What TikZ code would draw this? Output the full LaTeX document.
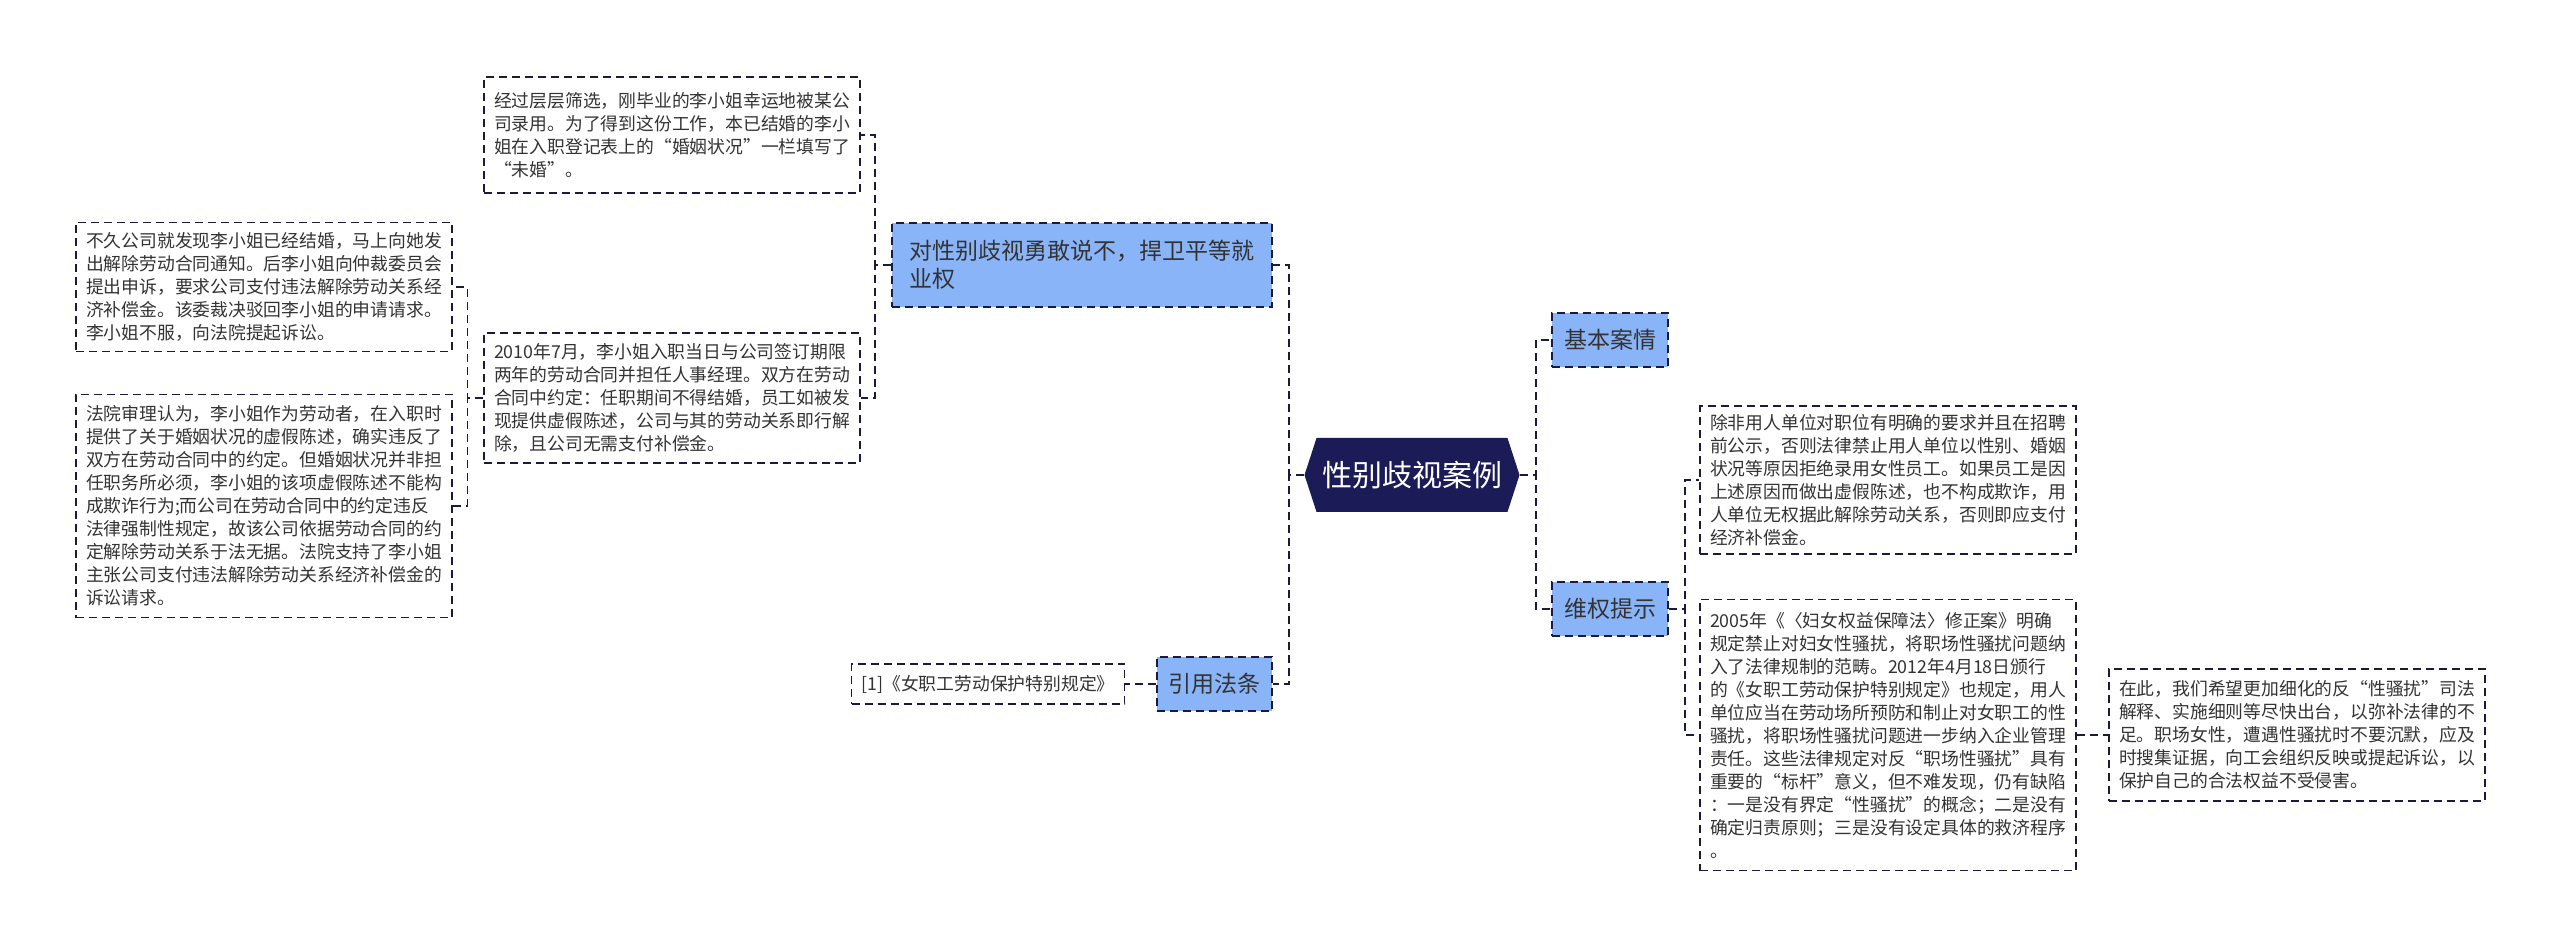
\documentclass[tikz,border=0pt]{standalone}
\usepackage{fontspec}
\setmainfont{Noto Sans CJK SC}
\usepackage{xcolor}
\definecolor{rootnavy}{RGB}{27,27,88}
\definecolor{linenavy}{RGB}{26,26,64}
\definecolor{topicblue}{RGB}{138,180,248}
\usepackage{tikz}
\usetikzlibrary{shapes.symbols, positioning}

\begin{document}
\begin{tikzpicture}[x=0.5pt, y=-0.5pt,
  root/.style={shape=signal, signal to=west and east, signal pointer angle=144, fill=rootnavy, text=white, font=\fontsize{15pt}{18pt}\selectfont, minimum width=107.5pt, minimum height=37pt, inner xsep=2pt},
  topic/.style={draw=linenavy, line width=1pt, dash pattern=on 4pt off 2.5pt, fill=topicblue, text=black!80, font=\fontsize{11.5pt}{14pt}\selectfont, minimum height=27pt},
  leaf/.style={draw=linenavy, line width=0.8pt, dash pattern=on 4pt off 2.5pt, fill=white, text=black!80, align=left, font=\fontsize{8.9pt}{11.5pt}\selectfont, inner sep=4pt, minimum width=188pt},
  mainlink/.style={linenavy, line width=1.4pt, dash pattern=on 4pt off 2.5pt},
  link/.style={linenavy, line width=0.7pt, dash pattern=on 4pt off 2.5pt}]
  \useasboundingbox (0,0) rectangle (2560,946);

  % Root
  \node[root] (root) at (1412,475) {性别歧视案例};

  % Right topics
  \node[topic, minimum width=58pt] (jb) at (1610,340) {基本案情};
  \node[topic, minimum width=58pt] (wq) at (1610,609) {维权提示};

  % Left topics
  \node[topic, minimum width=190pt, minimum height=42pt, align=left] (fb) at (1082,265) {对性别歧视勇敢说不，捍卫平等就\\业权};
  \node[topic, minimum width=57.5pt] (yy) at (1214,684) {引用法条};

  % Leaves of the left side
  \node[leaf, minimum width=136.5pt, minimum height=20pt] (ref) at (988,684) {[1]《女职工劳动保护特别规定》};
  \node[leaf, minimum height=58pt] (t1) at (672,135) {经过层层筛选，刚毕业的李小姐幸运地被某公\\司录用。为了得到这份工作，本已结婚的李小\\姐在入职登记表上的“婚姻状况”一栏填写了\\“未婚”。};
  \node[leaf, minimum height=65pt] (t2) at (672,398) {2010年7月，李小姐入职当日与公司签订期限\\两年的劳动合同并担任人事经理。双方在劳动\\合同中约定：任职期间不得结婚，员工如被发\\现提供虚假陈述，公司与其的劳动关系即行解\\除，且公司无需支付补偿金。};
  \node[leaf, minimum height=64.5pt] (t3) at (264,287) {不久公司就发现李小姐已经结婚，马上向她发\\出解除劳动合同通知。后李小姐向仲裁委员会\\提出申诉，要求公司支付违法解除劳动关系经\\济补偿金。该委裁决驳回李小姐的申请请求。\\李小姐不服，向法院提起诉讼。};
  \node[leaf, minimum height=111.5pt] (t4) at (264,506) {法院审理认为，李小姐作为劳动者，在入职时\\提供了关于婚姻状况的虚假陈述，确实违反了\\双方在劳动合同中的约定。但婚姻状况并非担\\任职务所必须，李小姐的该项虚假陈述不能构\\成欺诈行为;而公司在劳动合同中的约定违反\\法律强制性规定，故该公司依据劳动合同的约\\定解除劳动关系于法无据。法院支持了李小姐\\主张公司支付违法解除劳动关系经济补偿金的\\诉讼请求。};

  % Leaves of the right side
  \node[leaf, minimum height=73.5pt] (r1) at (1888,480) {除非用人单位对职位有明确的要求并且在招聘\\前公示，否则法律禁止用人单位以性别、婚姻\\状况等原因拒绝录用女性员工。如果员工是因\\上述原因而做出虚假陈述，也不构成欺诈，用\\人单位无权据此解除劳动关系，否则即应支付\\经济补偿金。};
  \node[leaf, minimum height=135.5pt] (r2) at (1888,735) {2005年《〈妇女权益保障法〉修正案》明确\\规定禁止对妇女性骚扰，将职场性骚扰问题纳\\入了法律规制的范畴。2012年4月18日颁行\\的《女职工劳动保护特别规定》也规定，用人\\单位应当在劳动场所预防和制止对女职工的性\\骚扰，将职场性骚扰问题进一步纳入企业管理\\责任。这些法律规定对反“职场性骚扰”具有\\重要的“标杆”意义，但不难发现，仍有缺陷\\：一是没有界定“性骚扰”的概念；二是没有\\确定归责原则；三是没有设定具体的救济程序\\。};
  \node[leaf, minimum height=66pt] (r3) at (2297,735) {在此，我们希望更加细化的反“性骚扰”司法\\解释、实施细则等尽快出台，以弥补法律的不\\足。职场女性，遭遇性骚扰时不要沉默，应及\\时搜集证据，向工会组织反映或提起诉讼，以\\保护自己的合法权益不受侵害。};

  % Connectors from the root
  \draw[mainlink] (root.east) -- ++(16,0) |- (jb.west);
  \draw[mainlink] (root.east) -- ++(16,0) |- (wq.west);
  \draw[mainlink] (root.west) -- ++(-15,0) |- (fb.east);
  \draw[mainlink] (root.west) -- ++(-15,0) |- (yy.east);

  % Connectors to the leaves
  \draw[link] (fb.west) -- ++(-16,0) |- (t1.east);
  \draw[link] (fb.west) -- ++(-16,0) |- (t2.east);
  \draw[link] (t2.west) -- ++(-16,0) |- (t3.east);
  \draw[link] (t2.west) -- ++(-16,0) |- (t4.east);
  \draw[link] (yy.west) -- (ref.east);
  \draw[link] (wq.east) -- ++(16,0) |- (r1.west);
  \draw[link] (wq.east) -- ++(16,0) |- (r2.west);
  \draw[link] (r2.east) -- (r3.west);
\end{tikzpicture}
\end{document}
